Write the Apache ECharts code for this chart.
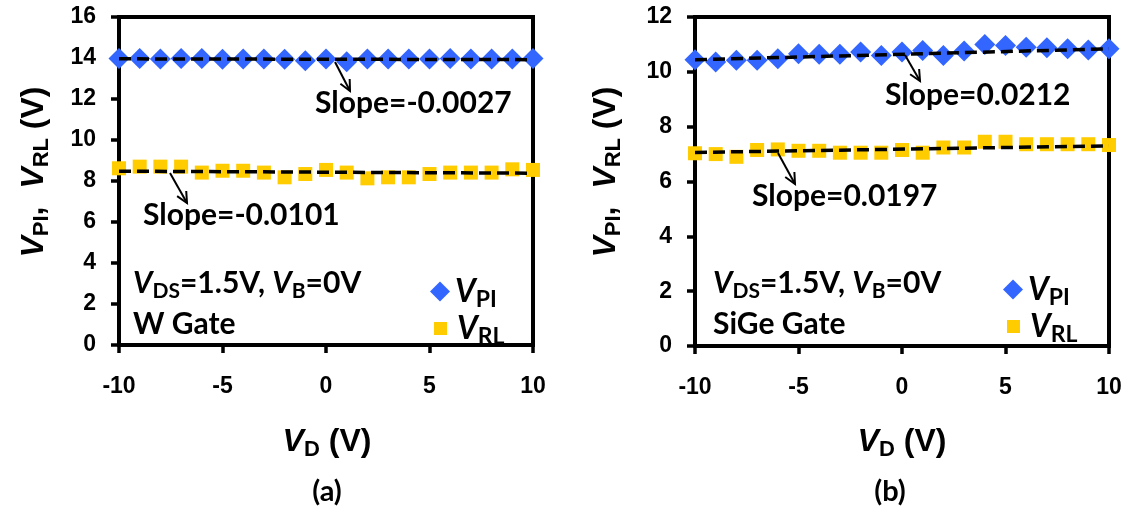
<!DOCTYPE html>
<html><head><meta charset="utf-8">
<script src="https://cdn.jsdelivr.net/npm/echarts@6/dist/echarts.min.js"></script>
<style>html,body{margin:0;padding:0;background:#fff}#c{width:1128px;height:514px}</style>
</head><body><div id="c"></div>
<script>
// ---- data ----
const vD = [-10,-9,-8,-7,-6,-5,-4,-3,-2,-1,0,1,2,3,4,5,6,7,8,9,10];
const vPI_W = [13.98,13.98,13.95,13.98,13.98,13.94,13.95,13.95,13.94,13.86,13.95,13.82,13.95,13.95,13.95,13.95,13.98,13.95,13.95,13.95,13.98];
const vRL_W = [8.62,8.70,8.70,8.70,8.41,8.50,8.50,8.41,8.18,8.34,8.54,8.41,8.13,8.18,8.18,8.34,8.41,8.41,8.41,8.57,8.54];
const vPI_SiGe = [10.44,10.36,10.42,10.42,10.48,10.66,10.64,10.64,10.72,10.60,10.72,10.78,10.60,10.76,11.00,10.96,10.90,10.88,10.84,10.80,10.84];
const vRL_SiGe = [7.03,7.00,6.90,7.15,7.17,7.12,7.12,7.05,7.05,7.05,7.15,7.05,7.24,7.24,7.45,7.45,7.36,7.36,7.36,7.36,7.33];
const fitX = [-10, 10];
const fitPI_W = [13.96, 13.92];
const fitRL_W = [8.48, 8.38];
const fitPI_SiGe = [10.44, 10.84];
const fitRL_SiGe = [7.06, 7.30];
const slopeLabels = ['Slope=-0.0027','Slope=-0.0101','Slope=0.0212','Slope=0.0197'];
const xAxisTicks = [-10,-5,0,5,10];
const yTicksW = [0,2,4,6,8,10,12,14,16];
const yTicksSiGe = [0,2,4,6,8,10,12];
const panelLabels = ['(a)','(b)'];
const gateLabels = ['W Gate','SiGe Gate'];

// ---- styles ----
const BLUE = '#3366FF', YEL = '#FFCC00';
const ARIAL = '"Liberation Sans", Arial, sans-serif';
const CAL = 'Lato, "Open Sans", sans-serif';
const pair = (xs, ys) => xs.map((x, i) => [x, ys[i]]);

function xAxisCfg(gi) {
  return {
    gridIndex: gi, type: 'value',
    min: xAxisTicks[0], max: xAxisTicks[xAxisTicks.length-1], interval: xAxisTicks[1]-xAxisTicks[0],
    axisLine: {show: true, lineStyle: {color: '#000', width: 4}},
    axisTick: {show: true, inside: false, length: 8, lineStyle: {color: '#000', width: 3.5}},
    axisLabel: {color: '#000', fontFamily: ARIAL, fontWeight: 'bold', fontSize: 23, margin: 30},
    splitLine: {show: false}
  };
}
function yAxisCfg(gi, ticks) {
  return {
    gridIndex: gi, type: 'value',
    min: ticks[0], max: ticks[ticks.length-1], interval: ticks[1]-ticks[0],
    axisLine: {show: true, onZero: false, lineStyle: {color: '#000', width: 4}},
    axisTick: {show: true, inside: false, length: 8, lineStyle: {color: '#000', width: 3.5}},
    axisLabel: {color: '#000', fontFamily: ARIAL, fontWeight: 'bold', fontSize: 23, margin: 23},
    splitLine: {show: false}
  };
}
function scatter(name, gi, ys, sym, size, color) {
  return {name, type: 'scatter', xAxisIndex: gi, yAxisIndex: gi, data: pair(vD, ys),
    symbol: sym, symbolSize: size, itemStyle: {color, opacity: 1}, z: 3, silent: true};
}
function fit(gi, ys) {
  return {type: 'line', xAxisIndex: gi, yAxisIndex: gi, data: pair(fitX, ys), symbol: 'none',
    lineStyle: {color: '#000', width: 3.5, type: [12, 6]}, z: 5, silent: true};
}
function makeRich(fam, main, sub, drop) {
  return {
    v: {fontFamily: fam, fontWeight: 'bold', fontStyle: 'italic', fontSize: main, lineHeight: main, verticalAlign: 'middle', color: '#000'},
    s: {fontFamily: fam, fontWeight: 'bold', fontSize: sub, lineHeight: sub, padding: [drop*2, 0, 0, 0], verticalAlign: 'middle', color: '#000'},
    t: {fontFamily: fam, fontWeight: 'bold', fontSize: main, lineHeight: main, verticalAlign: 'middle', color: '#000'}
  };
}
const subRich = makeRich(CAL, 30, 21, 8);
const legRich = makeRich(CAL, 32, 23, 8);
const axRich = makeRich(ARIAL, 32, 22, 8);

function legend(name, left, top, icon, sz, padL) {
  return {
    data: [name], left, top, orient: 'vertical', icon, itemWidth: sz, itemHeight: sz,
    selectedMode: false, padding: 0,
    formatter: n => n.startsWith('VPI') ? '{v|V}{s|PI}' : '{v|V}{s|RL}',
    textStyle: {padding: [0,0,0,padL], rich: legRich}
  };
}

const option = {
  backgroundColor: '#fff',
  animation: false,
  grid: [
    {left: 119, right: 595, top: 17, bottom: 169, show: true, borderColor: '#000', borderWidth: 4, backgroundColor: 'transparent'},
    {left: 695, right: 19, top: 17, bottom: 168, show: true, borderColor: '#000', borderWidth: 4, backgroundColor: 'transparent'}
  ],
  xAxis: [xAxisCfg(0), xAxisCfg(1)],
  yAxis: [yAxisCfg(0, yTicksW), yAxisCfg(1, yTicksSiGe)],
  legend: [
    legend('VPI_a', 430, 272, 'diamond', 20, 0),
    legend('VRL_a', 434, 309, 'rect', 13, 5),
    legend('VPI_b', 1003, 270, 'diamond', 20, 0),
    legend('VRL_b', 1007, 307, 'rect', 13, 5)
  ],
  series: [
    scatter('VPI_a', 0, vPI_W, 'diamond', 21, BLUE),
    scatter('VRL_a', 0, vRL_W, 'rect', 14, YEL),
    fit(0, fitPI_W), fit(0, fitRL_W),
    scatter('VPI_b', 1, vPI_SiGe, 'diamond', 21, BLUE),
    scatter('VRL_b', 1, vRL_SiGe, 'rect', 14, YEL),
    fit(1, fitPI_SiGe), fit(1, fitRL_SiGe)
  ]
};

// ---- annotations (text + arrows) ----
function arrow(x1, y1, x2, y2) {
  const a = Math.atan2(y2 - y1, x2 - x1), L = 12, s = 0.45;
  const p1 = [x2 - L*Math.cos(a - s), y2 - L*Math.sin(a - s)];
  const p2 = [x2 - L*Math.cos(a + s), y2 - L*Math.sin(a + s)];
  return [
    {type: 'line', shape: {x1, y1, x2, y2}, style: {stroke: '#000', lineWidth: 2}, z: 10},
    {type: 'polyline', shape: {points: [p1, [x2, y2], p2]}, style: {stroke: '#000', lineWidth: 2, fill: null}, z: 10}
  ];
}
function txt(x, y, text, font, size, align) {
  return {type: 'text', x, y, z: 10, style: {text, fill: '#000', font: 'bold ' + size + 'px ' + font, align: align || 'left', verticalAlign: 'middle'}};
}
function richTxt(x, y, text, rich, align, rotation) {
  return {type: 'text', x, y, z: 10, rotation: rotation || 0,
    style: {text, rich, align: align || 'left', verticalAlign: 'middle', fill: '#000'}};
}
const condText = '{v|V}{s|DS}{t|=1.5V, }{v|V}{s|B}{t|=0V}';
const ytitle = '{v|V}{s|PI}{t|,  }{v|V}{s|RL}{t| (V)}';
const xtitle = '{v|V}{s|D}{t| (V)}';

option.graphic = [].concat(
  arrow(335, 62, 350, 91), arrow(170, 173, 187, 203),
  arrow(905, 55, 920, 81), arrow(778, 153, 795, 184),
  [
    txt(315, 103, slopeLabels[0], CAL, 30),
    txt(143, 215, slopeLabels[1], CAL, 30),
    txt(885, 95, slopeLabels[2], CAL, 30),
    txt(752, 196, slopeLabels[3], CAL, 30),
    richTxt(133, 283, condText, subRich),
    richTxt(713, 283, condText, subRich),
    txt(133, 324, gateLabels[0], CAL, 30),
    txt(713, 324, gateLabels[1], CAL, 30),
    richTxt(34, 172, ytitle, axRich, 'center', Math.PI/2),
    richTxt(606, 172, ytitle, axRich, 'center', Math.PI/2),
    richTxt(327, 442, xtitle, axRich, 'center'),
    richTxt(902, 442, xtitle, axRich, 'center'),
    txt(327, 492, panelLabels[0], CAL, 29, 'center'),
    txt(890, 492, panelLabels[1], CAL, 29, 'center')
  ]
);

const chart = echarts.init(document.getElementById('c'), null, {renderer: 'canvas'});
chart.setOption(option);
</script></body></html>
